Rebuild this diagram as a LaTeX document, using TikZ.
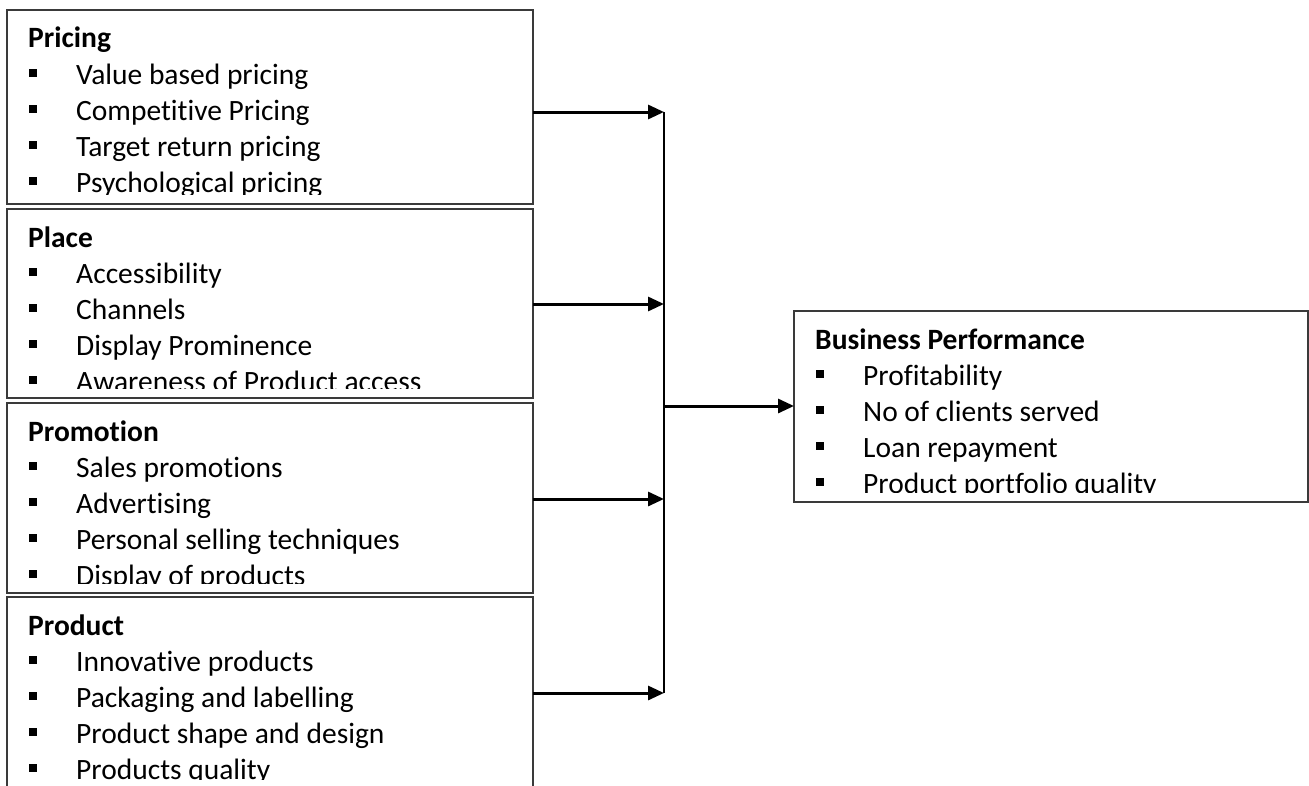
\documentclass[tikz,border=0pt]{standalone}
\usepackage{fontspec}
\setmainfont[Ligatures={NoCommon}]{Carlito}
\usetikzlibrary{arrows.meta}
\definecolor{boxgray}{HTML}{3A3A3A}

% #1 name prefix, #2 left x, #3 top y, #4 clip bottom y, #5 heading, #6 bullet items
\newcommand\panellist[6]{%
  \begin{scope}
    \clip (#2,#3) rectangle (#2+600,#4);
    \node[head] (#1-head) at (#2+21,#3+38) {#5};
    \foreach \t [count=\i] in {#6} {
      \node[item] (#1-\i) at (#2+22,#3+38+36*\i)
        {\makebox[47bp][l]{\rule[7bp]{8bp}{8.5bp}}\t};
    }
  \end{scope}%
}

\begin{document}
\begin{tikzpicture}[x=1bp,y=-1bp,
  panel/.style={draw=boxgray, line width=1.5bp, rectangle, anchor=north west,
    inner sep=0pt, outer sep=0pt},
  head/.style={anchor=base west, inner sep=0pt,
    font=\fontsize{29.5bp}{34bp}\selectfont\bfseries},
  item/.style={anchor=base west, inner sep=0pt,
    font=\fontsize{29.5bp}{34bp}\selectfont},
  link/.style={line width=3bp, -{Triangle[length=16bp,width=14bp]}},
  spine/.style={line width=1.5bp},
]
\clip (0,0) rectangle (1309,785);
\fill[white] (0,0) rectangle (1309,785);

% the four marketing-mix panels and the outcome panel
\node[panel, minimum width=526bp, minimum height=194bp] (pricing) at (7,10) {};
\node[panel, minimum width=526bp, minimum height=189bp] (place) at (7,209) {};
\node[panel, minimum width=526bp, minimum height=190bp] (promotion) at (7,403) {};
\node[panel, minimum width=526bp, minimum height=200bp] (product) at (7,597) {};
\node[panel, minimum width=514bp, minimum height=191bp] (performance) at (794,311) {};

\panellist{pr}{7}{10}{194}{Pricing}
  {Value based pricing, Competitive Pricing, Target return pricing, Psychological pricing}
\panellist{pl}{7}{209}{388}{Place}
  {Accessibility, Channels, Display Prominence, Awareness of Product access}
\panellist{pm}{7}{403}{583}{Promotion}
  {Sales promotions, Advertising, Personal selling techniques, Display of products}
\panellist{pd}{7}{597}{779}{Product}
  {Innovative products, Packaging and labelling, Product shape and design, Products quality}
\panellist{bp}{794}{311}{492}{Business Performance}
  {Profitability, No of clients served, Loan repayment, Product portfolio quality}

% collecting line and arrows
\coordinate (j1) at (664,112);
\coordinate (j2) at (664,304);
\coordinate (j3) at (664,499);
\coordinate (j4) at (664,693);
\coordinate (jm) at (664,406);

\draw[spine] (j1) -- (j4);
\draw[link] (pricing.east |- j1) -- (j1);
\draw[link] (place.east |- j2) -- (j2);
\draw[link] (promotion.east |- j3) -- (j3);
\draw[link] (product.east |- j4) -- (j4);
\draw[link] (jm) -- (performance.west |- jm);
\end{tikzpicture}
\end{document}
